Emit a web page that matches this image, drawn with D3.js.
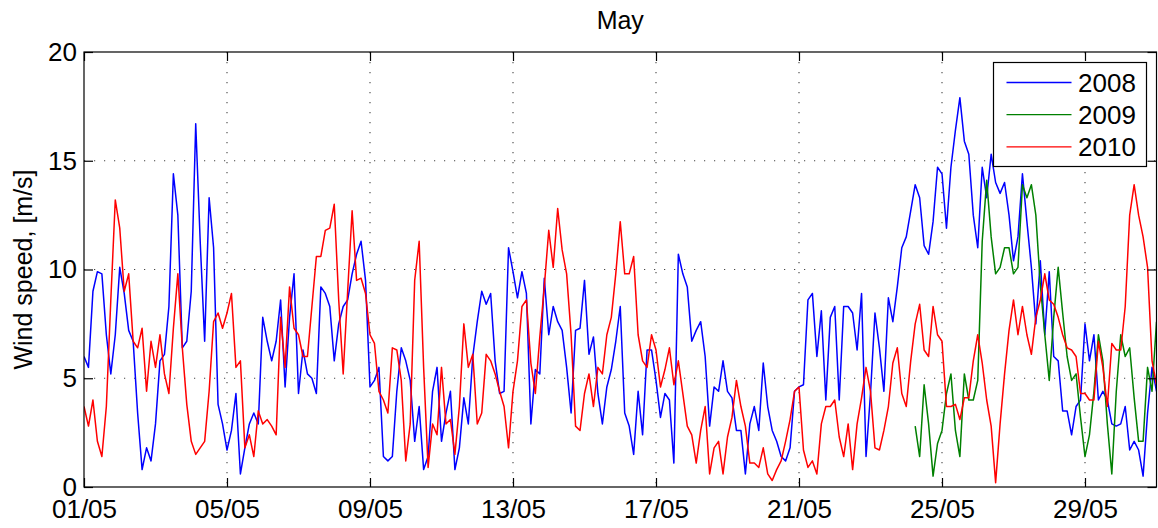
<!DOCTYPE html>
<html>
<head>
<meta charset="utf-8">
<script src="https://cdn.jsdelivr.net/npm/d3@7"></script>
<style>
    body { margin: 0; background: #fff; }
    svg { display: block; font-family: 'Liberation Sans', Arial, sans-serif; }
</style>
</head>
<body>
<svg id="chart" width="1158" height="528"></svg>
<script>
// wind speed, 3-hourly samples from 01/05 00:00
const stepHours = 3;
const tickLabels = ['01/05', '05/05', '09/05', '13/05', '17/05', '21/05', '25/05', '29/05'];
const yTicks = [0, 5, 10, 15, 20];
const years = ['2008', '2009', '2010'];
const colors = ['#0000ff', '#008000', '#ff0000'];

const speed2008 = [
    6.0, 5.5, 9.0, 9.9, 9.8, 7.0, 5.2, 7.0,
    10.1, 8.9, 7.2, 6.7, 3.4, 0.8, 1.8, 1.2,
    2.9, 5.8, 6.1, 8.3, 14.4, 12.5, 6.4, 6.7,
    9.0, 16.7, 11.3, 6.7, 13.3, 11.0, 3.8, 2.9,
    1.7, 2.6, 4.3, 0.6, 1.8, 2.9, 3.4, 2.9,
    7.8, 6.7, 5.8, 6.7, 8.6, 4.6, 7.8, 9.8,
    4.3, 6.3, 5.2, 5.0, 4.3, 9.2, 8.9, 8.3,
    5.8, 7.5, 8.3, 8.6, 9.8, 10.7, 11.3, 9.5,
    4.6, 4.9, 5.5, 1.4, 1.2, 1.4, 4.4, 6.4,
    5.8, 4.9, 2.1, 3.7, 0.8, 1.4, 4.4, 5.5,
    2.1, 3.4, 4.4, 0.8, 1.8, 4.1, 2.9, 6.0,
    7.6, 9.0, 8.4, 8.9, 5.8, 4.3, 4.4, 11.0,
    9.9, 8.7, 9.9, 8.9, 2.9, 5.4, 5.2, 9.6,
    7.0, 8.3, 7.6, 7.2, 5.5, 3.4, 7.2, 7.3,
    9.5, 6.1, 6.9, 4.3, 2.9, 4.6, 5.4, 6.7,
    8.3, 3.4, 2.8, 1.5, 4.4, 2.4, 6.3, 6.3,
    4.9, 3.2, 4.3, 4.0, 1.1, 10.7, 9.8, 9.2,
    6.7, 7.2, 7.6, 6.0, 2.8, 4.6, 4.4, 5.8,
    4.4, 4.1, 2.6, 2.6, 0.6, 2.9, 3.7, 2.6,
    5.7, 3.7, 2.6, 2.1, 1.4, 1.2, 1.8, 4.4,
    4.6, 4.7, 8.6, 8.9, 6.0, 8.1, 4.0, 7.8,
    8.3, 4.0, 8.3, 8.3, 8.0, 6.3, 8.9, 1.4,
    4.3, 8.0, 6.4, 4.4, 8.7, 7.6, 9.2, 11.0,
    11.5, 12.7, 13.9, 13.3, 11.1, 10.7, 12.2, 14.7,
    14.4, 11.9, 14.7, 16.4, 17.9, 15.9, 15.3, 12.5,
    11.0, 14.7, 13.3, 15.3, 14.0, 13.5, 14.0, 12.5,
    10.4, 11.5, 14.4, 12.2, 10.1, 7.5, 10.4, 7.0,
    9.9, 6.0, 5.8, 3.5, 3.5, 2.4, 3.7, 4.0,
    7.5, 5.8, 7.0, 4.0, 4.4, 4.0, 2.9, 2.8,
    2.9, 3.7, 1.7, 2.1, 1.7, 0.5, 3.4, 5.5,
    4.4
];

// 2009 record starts on 24/05 06:00
const start2009 = 558;
const speed2009 = [
    2.8, 1.4, 4.7, 2.9, 0.5, 2.0,
    2.6, 4.3, 5.2, 2.6, 1.4, 5.2, 4.0, 4.0,
    4.9, 11.3, 14.1, 11.5, 9.8, 10.1, 11.0, 11.0,
    9.8, 10.1, 13.9, 13.3, 13.9, 12.5, 9.3, 7.0,
    4.9, 7.8, 10.1, 8.0, 6.0, 4.9, 5.2, 3.2,
    1.4, 2.4, 4.4, 7.0, 5.8, 2.9, 0.6, 4.4,
    7.0, 6.0, 6.4, 4.1, 2.1, 2.1, 5.5, 4.4,
    7.6
];

const speed2010 = [
    3.7, 2.8, 4.0, 2.1, 1.4, 3.7, 8.6, 13.2,
    11.9, 9.0, 9.8, 6.7, 6.4, 7.3, 4.4, 6.7,
    5.5, 7.0, 5.2, 4.3, 7.3, 9.8, 6.4, 3.8,
    2.1, 1.5, 1.8, 2.1, 4.4, 7.6, 8.0, 7.3,
    8.0, 8.9, 5.5, 5.8, 1.8, 2.4, 1.4, 3.5,
    2.9, 3.1, 2.8, 2.4, 7.8, 5.5, 9.2, 7.3,
    7.0, 6.0, 6.0, 8.3, 10.6, 10.6, 11.8, 11.9,
    13.0, 8.6, 5.2, 9.0, 12.7, 9.5, 9.6, 8.9,
    7.0, 6.6, 4.4, 4.0, 3.4, 6.4, 6.3, 4.9,
    1.2, 2.9, 9.5, 11.3, 5.5, 0.9, 2.9, 2.4,
    5.5, 2.9, 3.1, 1.5, 3.7, 7.5, 5.5, 6.1,
    2.9, 3.4, 6.1, 5.8, 5.2, 4.4, 3.7, 1.8,
    4.4, 5.8, 8.3, 8.6, 5.7, 4.3, 6.9, 9.2,
    11.8, 10.1, 12.8, 10.9, 9.8, 7.0, 2.8, 2.6,
    4.3, 5.2, 3.7, 5.5, 5.2, 7.0, 7.8, 9.8,
    12.2, 9.8, 9.8, 10.6, 7.0, 5.8, 5.5, 7.0,
    6.3, 4.6, 5.4, 6.4, 4.7, 5.8, 4.3, 2.8,
    2.4, 1.1, 2.6, 3.7, 0.6, 1.8, 2.1, 0.6,
    2.3, 3.2, 4.9, 3.7, 2.8, 1.1, 1.1, 0.9,
    1.8, 0.6, 0.3, 0.8, 1.2, 2.1, 3.1, 4.4,
    4.6, 1.7, 0.9, 1.2, 0.6, 2.9, 3.7, 3.7,
    4.0, 2.3, 1.4, 2.9, 0.8, 2.9, 4.1, 5.5,
    4.4, 1.8, 1.7, 2.6, 3.7, 5.7, 6.4, 4.3,
    3.7, 5.8, 7.5, 8.4, 6.3, 6.0, 8.3, 7.0,
    6.7, 3.7, 3.7, 3.8, 3.1, 4.1, 4.1, 5.8,
    7.0, 5.7, 4.0, 2.8, 0.2, 2.9, 5.2, 7.2,
    8.6, 7.0, 8.3, 7.0, 6.1, 7.8, 8.6, 9.8,
    8.6, 8.4, 7.8, 7.0, 6.4, 6.3, 6.0, 4.3,
    4.3, 4.0, 4.0, 6.7, 5.5, 3.7, 6.6, 6.3,
    6.3, 8.3, 12.5, 13.9, 12.5, 11.5, 10.1, 5.8,
    4.7
];

const width = 1158;
const height = 528;
const margin = { top: 52, right: 1.5, bottom: 41, left: 84 };
const plotW = width - margin.left - margin.right;
const plotH = height - margin.top - margin.bottom;

const may1 = new Date(2010, 4, 1);
const toDate = (hours) => d3.timeHour.offset(may1, hours);

const series = [
    { name: years[0], color: colors[0], start: 0, values: speed2008 },
    { name: years[1], color: colors[1], start: start2009, values: speed2009 },
    { name: years[2], color: colors[2], start: 0, values: speed2010 }
].map((s) => ({
    ...s,
    points: s.values.map((v, i) => ({ date: toDate(s.start + i * stepHours), value: v }))
}));

const x = d3.scaleTime().domain([may1, new Date(2010, 4, 31)]).range([0, plotW]);
const y = d3.scaleLinear().domain([0, 20]).range([plotH, 0]);
const xTickDates = tickLabels.map((l) => d3.timeParse('%d/%m/%Y')(l + '/2010'));

const svg = d3.select('#chart');
const g = svg.append('g').attr('transform', `translate(${margin.left},${margin.top})`);

g.append('clipPath').attr('id', 'clip')
    .append('rect').attr('width', plotW).attr('height', plotH);

// dotted grid
const gridStyle = (sel) => sel
    .attr('stroke', '#444')
    .attr('stroke-width', 1.1)
    .attr('stroke-dasharray', '1.2,8.8');

g.append('g').selectAll('line')
    .data(xTickDates.slice(1))
    .join('line')
    .attr('x1', (d) => x(d)).attr('x2', (d) => x(d))
    .attr('y1', 0).attr('y2', plotH)
    .call(gridStyle);

g.append('g').selectAll('line')
    .data(yTicks.slice(1, -1))
    .join('line')
    .attr('x1', 0).attr('x2', plotW)
    .attr('y1', (d) => y(d)).attr('y2', (d) => y(d))
    .call(gridStyle);

// data lines
const line = d3.line().x((d) => x(d.date)).y((d) => y(d.value));

g.append('g').attr('clip-path', 'url(#clip)')
    .selectAll('path')
    .data(series)
    .join('path')
    .attr('d', (d) => line(d.points))
    .attr('fill', 'none')
    .attr('stroke', (d) => d.color)
    .attr('stroke-width', 1.5)
    .attr('stroke-linejoin', 'round');

// axes, ticks pointing inwards on all four sides
const tickLen = 9;
const xAxis = g.append('g').attr('transform', `translate(0,${plotH})`)
    .call(d3.axisBottom(x).tickValues(xTickDates).tickFormat(d3.timeFormat('%d/%m'))
        .tickSizeInner(-tickLen).tickSizeOuter(0).tickPadding(12));
const xTop = g.append('g')
    .call(d3.axisTop(x).tickValues(xTickDates).tickFormat('').tickSizeInner(-tickLen).tickSizeOuter(0));
const yAxis = g.append('g')
    .call(d3.axisLeft(y).tickValues(yTicks).tickSizeInner(-tickLen).tickSizeOuter(0).tickPadding(7));
const yRight = g.append('g').attr('transform', `translate(${plotW},0)`)
    .call(d3.axisRight(y).tickValues(yTicks).tickFormat('').tickSizeInner(-tickLen).tickSizeOuter(0));

[xAxis, xTop, yAxis, yRight].forEach((a) => {
    a.select('.domain').remove();
    a.selectAll('line').attr('stroke', '#000').attr('stroke-width', 1.2);
    a.selectAll('text').attr('fill', '#000').style('font-size', '26px');
});
xAxis.selectAll('text').attr('dy', '0.72em');

g.append('rect')
    .attr('width', plotW).attr('height', plotH)
    .attr('fill', 'none').attr('stroke', '#000').attr('stroke-width', 1.2);

// title and axis label
svg.append('text')
    .attr('x', margin.left + plotW / 2).attr('y', 29)
    .attr('text-anchor', 'middle')
    .style('font-size', '25px')
    .text('May');

svg.append('text')
    .attr('transform', `translate(32,${margin.top + plotH / 2}) rotate(-90)`)
    .attr('text-anchor', 'middle')
    .style('font-size', '25px')
    .text('Wind speed, [m/s]');

// legend
const legend = svg.append('g').attr('transform', 'translate(993.5,62.5)');
legend.append('rect')
    .attr('width', 153).attr('height', 104)
    .attr('fill', '#fff').attr('stroke', '#000').attr('stroke-width', 1.2);

const rows = legend.selectAll('g.row')
    .data(series)
    .join('g')
    .attr('class', 'row')
    .attr('transform', (d, i) => `translate(0,${20 + i * 32.2})`);

rows.append('line')
    .attr('x1', 13).attr('x2', 78)
    .attr('stroke', (d) => d.color).attr('stroke-width', 1.3);

rows.append('text')
    .attr('x', 84.5).attr('dy', '0.36em')
    .style('font-size', '26px')
    .text((d) => d.name);
</script>
</body>
</html>
